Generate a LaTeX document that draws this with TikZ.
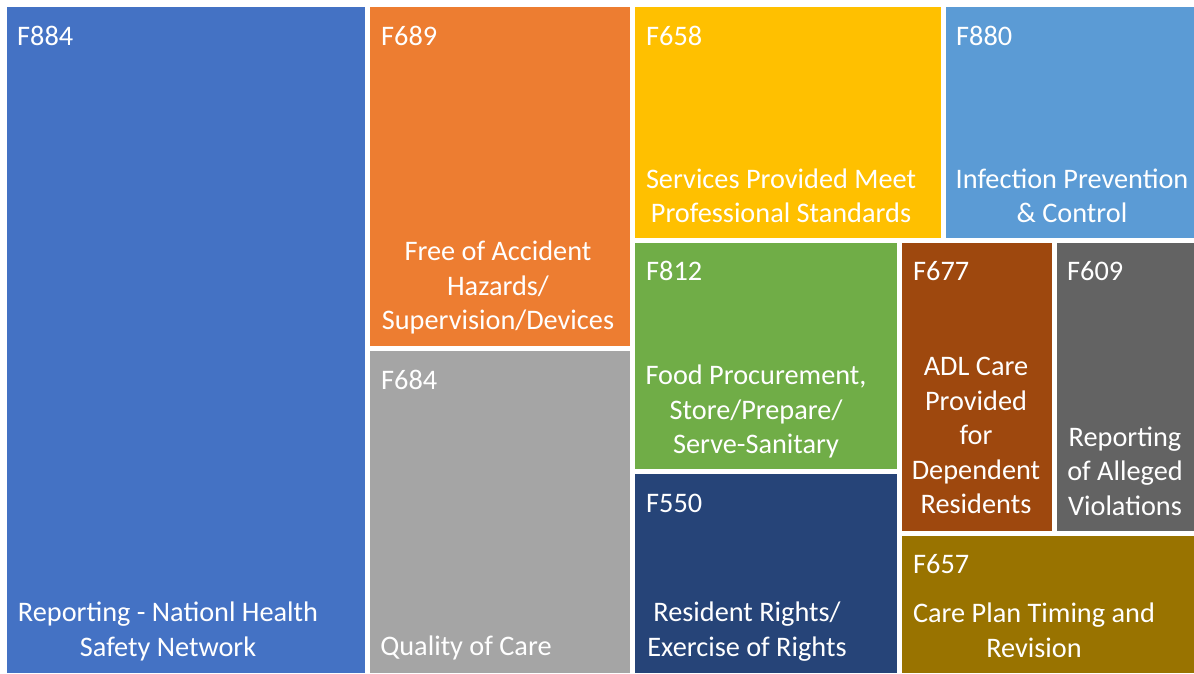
\documentclass[tikz,border=0pt]{standalone}
\usepackage{fontspec}
\setmainfont{Carlito}
\definecolor{cBlue}{HTML}{4472C4}
\definecolor{cOrange}{HTML}{ED7D31}
\definecolor{cGray}{HTML}{A5A5A5}
\definecolor{cYellow}{HTML}{FFC000}
\definecolor{cLBlue}{HTML}{5B9BD5}
\definecolor{cGreen}{HTML}{70AD47}
\definecolor{cNavy}{HTML}{264478}
\definecolor{cBrown}{HTML}{9E480E}
\definecolor{cDGray}{HTML}{636363}
\definecolor{cOlive}{HTML}{997300}
\begin{document}
\begin{tikzpicture}[x=1pt,y=-1pt,
  code/.style={text=white,anchor=base west,inner sep=0pt,font=\fontsize{28.3}{34.5}\selectfont},
  lbl/.style={text=white,anchor=center,align=center,inner sep=0pt,font=\fontsize{28.3}{34.5}\selectfont}]
\useasboundingbox (0,0) rectangle (1194,673);
\fill[white] (0,0) rectangle (1194,673);
% tiles
\fill[cBlue]   (7,7)     rectangle (365,673);
\fill[cOrange] (370,7)   rectangle (630,346);
\fill[cGray]   (370,351) rectangle (630,673);
\fill[cYellow] (635,7)   rectangle (941,238);
\fill[cLBlue]  (946,7)   rectangle (1194,238);
\fill[cGreen]  (635,243) rectangle (897,469);
\fill[cNavy]   (635,474) rectangle (897,673);
\fill[cBrown]  (902,243) rectangle (1052,531);
\fill[cDGray]  (1057,243) rectangle (1194,531);
\fill[cOlive]  (902,536) rectangle (1194,673);
% codes
\node[code] (c884) at (17,45) {F884};
\node[code] (c689) at (381,45) {F689};
\node[code] (c684) at (381,389) {F684};
\node[code] (c658) at (646,45) {F658};
\node[code] (c880) at (956,45) {F880};
\node[code] (c812) at (646,280) {F812};
\node[code] (c550) at (646,512) {F550};
\node[code] (c677) at (913,280) {F677};
\node[code] (c609) at (1067,280) {F609};
\node[code] (c657) at (913,573) {F657};
% labels
\node[lbl] (l884) at (168,631.5) {Reporting - Nationl Health\\Safety Network};
\node[lbl] (l689) at (498,287.5) {Free of Accident\\Hazards/\\Supervision/Devices};
\node[lbl] (l684) at (466,648) {Quality of Care};
\node[lbl] (l658) at (781,196) {Services Provided Meet\\Professional Standards};
\node[lbl] (l880) at (1072,196) {Infection Prevention\\\& Control};
\node[lbl] (l812) at (756,411.5) {Food Procurement,\\Store/Prepare/\\Serve-Sanitary};
\node[lbl] (l550) at (747,631.5) {Resident Rights/\\Exercise of Rights};
\node[lbl] (l677) at (976,435.5) {ADL Care\\Provided\\for\\Dependent\\Residents};
\node[lbl] (l609) at (1125,471) {Reporting\\of Alleged\\Violations};
\node[lbl] (l657) at (1034,630.5) {Care Plan Timing and\\Revision};
\end{tikzpicture}
\end{document}
